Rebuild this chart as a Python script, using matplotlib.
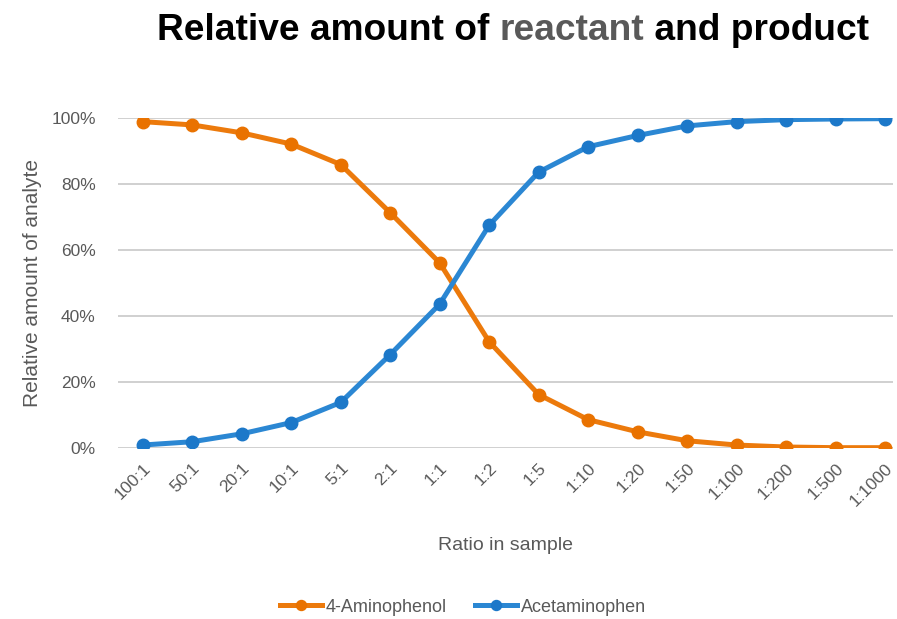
import numpy as np
import matplotlib.pyplot as plt
from matplotlib.ticker import PercentFormatter

ratios = ["100:1", "50:1", "20:1", "10:1", "5:1", "2:1", "1:1", "1:2", "1:5",
          "1:10", "1:20", "1:50", "1:100", "1:200", "1:500", "1:1000"]
aminophenol = [98.9, 97.9, 95.5, 92.1, 85.9, 71.3, 56.1, 32.2, 16.2,
               8.6, 4.9, 2.2, 0.9, 0.3, 0.1, 0.1]
acetaminophen = [0.9, 1.9, 4.3, 7.7, 13.8, 28.3, 43.6, 67.5, 83.6,
                 91.3, 94.7, 97.6, 98.9, 99.5, 99.7, 99.8]

orange = "#EC7A0C"
blue = "#2B87D3"
text_gray = "#595959"

plt.rcParams["font.family"] = ["Liberation Sans", "DejaVu Sans"]

fig = plt.figure(figsize=(8.97, 6.19), dpi=100)
ax = fig.add_axes([118 / 897, 1 - 448 / 619, 775 / 897, 330 / 619])

x = np.arange(len(ratios))
ax.plot(x, aminophenol, color=orange, lw=3.6, marker="o", ms=9,
        mfc="#E97200", mec="#E97200", label="4-Aminophenol", zorder=3)
ax.plot(x, acetaminophen, color=blue, lw=3.6, marker="o", ms=9,
        mfc="#1C78C9", mec="#1C78C9", label="Acetaminophen", zorder=3)

ax.set_xlim(-0.5, 15.16)
ax.set_ylim(0, 100)
ax.set_yticks(np.arange(0, 101, 20))
ax.yaxis.set_major_formatter(PercentFormatter(decimals=0))
ax.grid(axis="y", color="#C8C8C8", lw=1.2)
ax.set_axisbelow(True)
for s in ax.spines.values():
    s.set_visible(False)
ax.tick_params(length=0, colors=text_gray, labelsize=12.5)
ax.tick_params(axis="y", pad=16)

ax.set_xticks(x)
ax.set_xticklabels(ratios, rotation=45, ha="right", rotation_mode="anchor")
ax.tick_params(axis="x", pad=9)

ax.set_xlabel("Ratio in sample", fontsize=14, color=text_gray, labelpad=20)
ax.set_ylabel("Relative amount of analyte", fontsize=15, color=text_gray, labelpad=7)

ax.legend(loc="center", bbox_to_anchor=(463 / 897, 12 / 619),
          bbox_transform=fig.transFigure, ncol=2, frameon=False,
          fontsize=13, labelcolor=text_gray, handlelength=2.3,
          columnspacing=1.6, handletextpad=0.2, markerscale=0.8)

# title with the word "reactant" in gray
parts = [("Relative amount of ", "black"), ("reactant", "#595959"),
         (" and product", "black")]
renderer = fig.canvas.get_renderer()
xpos = 157 / 897
for txt, col in parts:
    t = fig.text(xpos, 1 - 40 / 619, txt, fontsize=26.7, fontweight="bold",
                 color=col, ha="left", va="baseline")
    bb = t.get_window_extent(renderer=renderer)
    xpos += bb.width / fig.bbox.width

fig.savefig("out.png", dpi=100)
